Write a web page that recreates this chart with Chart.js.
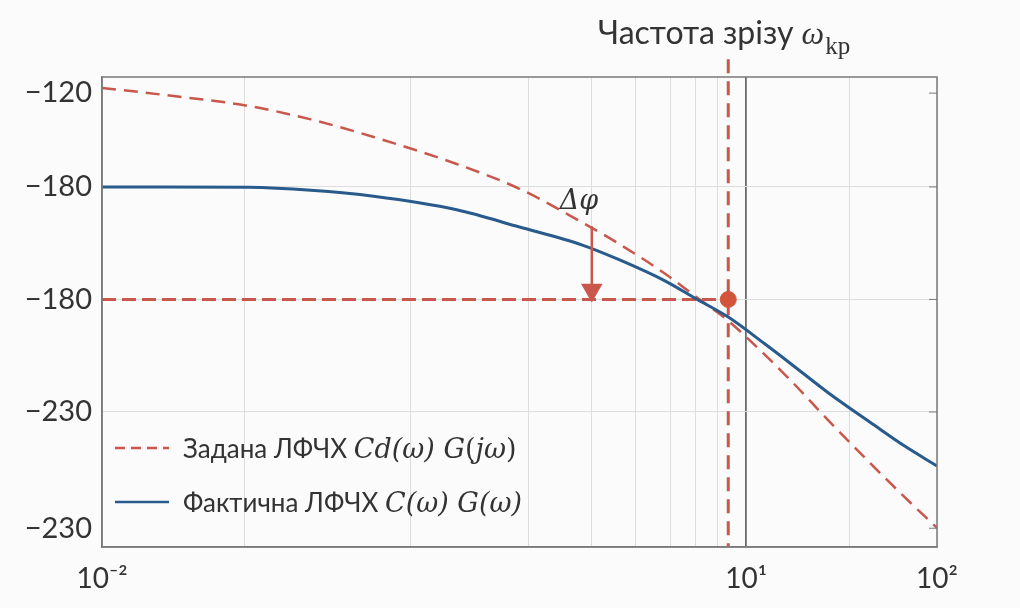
<!DOCTYPE html>
<html lang="uk">
<head>
<meta charset="utf-8">
<title>ЛФЧХ</title>
<script src="https://cdn.jsdelivr.net/npm/chart.js@4"></script>
<style>
  html, body { margin: 0; padding: 0; background: #fbfbfb; }
  #wrap { width: 1020px; height: 608px; }
</style>
</head>
<body>
<div id="wrap"><canvas id="phaseChart" width="1020" height="608"></canvas></div>
<script>
// frequencies (rad/s) and phase values
const omega = [0.01, 0.02, 0.05, 0.1, 0.2, 0.5, 1, 2, 3, 5, 7, 10, 15, 20, 30, 50, 70, 100];
const desiredPhase = [-123.6, -125.5, -128.4, -132.0, -136.7, -143.9, -150.5, -159.5, -165.2, -173.2, -179.3, -185.7, -194.8, -201.7, -212.1, -224.7, -232.7, -240.9];
const actualPhase = [-150, -150, -150.1, -150.9, -152.5, -156.1, -160.7, -165.5, -169.4, -175.1, -179.8, -184.7, -191.9, -197.2, -204.8, -213.5, -219.1, -224.4];

// crossover frequency, reference level and the phase margin arrow
const cutoffOmega = 10;
const refLevel = -180;
const marginOmega = 2.22;
const marginFrom = -160.5;
const marginTo = -177.5;

// axis ticks as drawn in the picture
const xTickValues = [0.01, 0.048, 0.3, 1.1, 2.22, 3.58, 5.26, 7.0, 8.93, 12.2, 37.9, 100];
const xTickLabels = ['10⁻²', '', '', '', '', '', '', '', '', '10¹', '', '10²'];
const yTickValues = [-125, -150, -180, -210, -241];
const yTickLabels = ['−120', '−180', '−180', '−230', '−230'];

const RED = '#c9574b';
const DOT = '#d2553b';
const BLUE = '#285a8c';
const SANS = 'Lato, Roboto, "Open Sans", sans-serif';
const SERIF = '"DejaVu Serif", "Liberation Serif", serif';
const TSERIF = '"Liberation Serif", "DejaVu Serif", serif';

function pts(xs, ys) {
    return xs.map((x, i) => ({ x: x, y: ys[i] }));
}

// draws a run of [text, font, dy, extra gap] pieces one after another
function drawPieces(ctx, pieces, x, y) {
    pieces.forEach(p => {
        ctx.font = p[1];
        ctx.fillText(p[0], x, y + (p[2] || 0));
        x += ctx.measureText(p[0]).width + (p[3] || 0);
    });
}

const extrasPlugin = {
    id: 'extras',
    afterDatasetsDraw(chart) {
        const { ctx, chartArea: a, scales } = chart;
        ctx.save();

        // frame on top and right, small ticks on the right side
        ctx.strokeStyle = '#7a7a7a';
        ctx.lineWidth = 1.5;
        ctx.strokeRect(a.left, a.top, a.right - a.left, a.bottom - a.top);
        ctx.lineWidth = 1;
        yTickValues.forEach(v => {
            const py = scales.y.getPixelForValue(v);
            ctx.beginPath();
            ctx.moveTo(a.right - 8, py);
            ctx.lineTo(a.right, py);
            ctx.stroke();
        });

        ctx.fillStyle = '#333';
        ctx.textBaseline = 'alphabetic';

        // Δφ label
        const dx = scales.x.getPixelForValue(1.56);
        const dy = scales.y.getPixelForValue(-156);
        drawPieces(ctx, [['Δφ', 'italic 27px ' + SERIF]], dx, dy);

        // title above the cutoff line
        drawPieces(ctx, [
            ['Частота зрізу ', '32px ' + SANS],
            ['ω', 'italic 32px ' + TSERIF, 0, 1],
            ['kp', '25px ' + TSERIF, 10]
        ], 598, 44);

        // legend
        const lx = a.left + 13;
        const mf = 'italic 27px ' + SERIF;
        const rf = '27px ' + SERIF;
        const rows = [
            { y: 448, dash: [10, 6], color: RED, text: 'Задана ЛФЧХ ', math: [['C', mf], ['d', mf], ['(ω) ', mf], ['G', mf], ['(', rf], ['jω', mf], [')', rf]] },
            { y: 502, dash: [], color: BLUE, text: 'Фактична ЛФЧХ ', math: [['C', mf], ['(ω) ', mf], ['G', mf], ['(ω)', mf]] }
        ];
        rows.forEach(r => {
            ctx.strokeStyle = r.color;
            ctx.lineWidth = 2.5;
            ctx.setLineDash(r.dash);
            ctx.beginPath();
            ctx.moveTo(lx, r.y);
            ctx.lineTo(lx + 54, r.y);
            ctx.stroke();
            ctx.setLineDash([]);
            ctx.fillStyle = '#333';
            ctx.font = '26px ' + SANS;
            ctx.fillText(r.text, lx + 68, r.y + 10);
            const w = ctx.measureText(r.text).width;
            drawPieces(ctx, r.math, lx + 68 + w, r.y + 10);
        });

        ctx.restore();
    }
};

new Chart(document.getElementById('phaseChart'), {
    type: 'line',
    data: {
        datasets: [
            {
                label: 'cutoff point',
                data: [{ x: cutoffOmega, y: refLevel }],
                showLine: false,
                pointRadius: 8,
                pointBackgroundColor: DOT,
                pointBorderColor: DOT,
                order: 0
            },
            {
                label: 'margin arrow',
                data: [{ x: marginOmega, y: marginFrom }, { x: marginOmega, y: marginTo }],
                borderColor: RED,
                borderWidth: 2.5,
                pointRadius: [0, 10],
                pointStyle: 'triangle',
                rotation: 180,
                pointBackgroundColor: RED,
                pointBorderColor: RED,
                order: 1
            },
            {
                label: 'Фактична ЛФЧХ',
                data: pts(omega, actualPhase),
                borderColor: BLUE,
                borderWidth: 3,
                pointRadius: 0,
                cubicInterpolationMode: 'monotone',
                order: 2
            },
            {
                label: 'Задана ЛФЧХ',
                data: pts(omega, desiredPhase),
                borderColor: RED,
                borderWidth: 2.5,
                borderDash: [14, 8],
                pointRadius: 0,
                cubicInterpolationMode: 'monotone',
                order: 3
            },
            {
                label: 'reference level',
                data: [{ x: 0.01, y: refLevel }, { x: cutoffOmega, y: refLevel }],
                borderColor: RED,
                borderWidth: 3,
                borderDash: [14, 6],
                pointRadius: 0,
                order: 4
            },
            {
                label: 'cutoff line',
                data: [{ x: cutoffOmega, y: -116 }, { x: cutoffOmega, y: -246 }],
                borderColor: RED,
                borderWidth: 3,
                borderDash: [14, 8],
                pointRadius: 0,
                clip: false,
                order: 4
            }
        ]
    },
    options: {
        responsive: false,
        animation: false,
        devicePixelRatio: 1,
        layout: { padding: { top: 77, right: 83, left: 0, bottom: 0 } },
        plugins: {
            legend: { display: false },
            tooltip: { enabled: false }
        },
        scales: {
            x: {
                type: 'logarithmic',
                min: 0.01,
                max: 100,
                afterBuildTicks: scale => { scale.ticks = xTickValues.map(v => ({ value: v })); },
                afterFit: scale => { scale.height = 61; },
                ticks: {
                    autoSkip: false,
                    maxRotation: 0,
                    padding: 15,
                    color: '#333',
                    font: { family: SANS, size: 28 },
                    callback: (value, index) => xTickLabels[index]
                },
                grid: {
                    drawTicks: false,
                    color: c => (c.tick && c.tick.value === 12.2) ? '#6b6b6b' : '#dddddd',
                    lineWidth: c => (c.tick && c.tick.value === 12.2) ? 1.8 : 1
                },
                border: { color: '#7a7a7a', width: 1.5 }
            },
            y: {
                type: 'linear',
                min: -246,
                max: -120.7,
                afterBuildTicks: scale => { scale.ticks = yTickValues.map(v => ({ value: v })); },
                afterFit: scale => { scale.width = 102; },
                ticks: {
                    padding: 10,
                    color: '#333',
                    font: { family: SANS, size: 29 },
                    callback: (value, index) => yTickLabels[index]
                },
                grid: {
                    drawTicks: false,
                    color: c => (c.index === 0 || c.index === yTickValues.length - 1) ? 'rgba(0,0,0,0)' : '#dddddd'
                },
                border: { color: '#7a7a7a', width: 1.5 }
            }
        }
    },
    plugins: [extrasPlugin]
});
</script>
</body>
</html>
